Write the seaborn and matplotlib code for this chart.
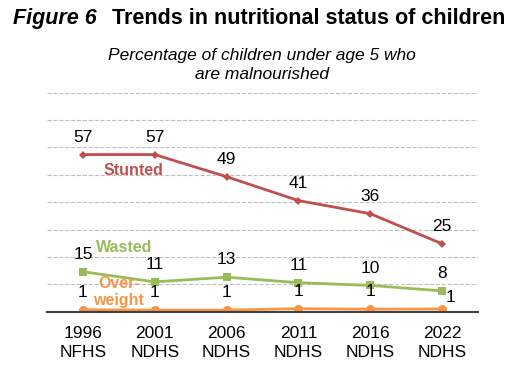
import matplotlib
matplotlib.use("Agg")
import matplotlib.pyplot as plt
import pandas as pd
import seaborn as sns

surveys = ['1996\nNFHS', '2001\nNDHS', '2006\nNDHS', '2011\nNDHS', '2016\nNDHS', '2022\nNDHS']
stunted = [57.4, 57.4, 49.3, 40.6, 35.8, 24.8]
wasted = [14.6, 10.9, 12.6, 10.6, 9.6, 7.6]
overweight = [0.7, 0.6, 0.6, 1.1, 0.9, 1.0]

series = ['Stunted', 'Wasted', 'Overweight']
colors = {'Stunted': '#C0504D', 'Wasted': '#9BBB59', 'Overweight': '#F79646'}
markers = {'Stunted': 'D', 'Wasted': 's', 'Overweight': 'o'}
msize = {'Stunted': 4, 'Wasted': 6, 'Overweight': 6.5}

df = pd.DataFrame({'survey': surveys, 'Stunted': stunted, 'Wasted': wasted, 'Overweight': overweight})
data = df.melt(id_vars=['survey'], var_name='status', value_name='pct')

sns.set_style('white')
plt.rcParams['font.family'] = ['Liberation Sans', 'DejaVu Sans']
plt.rcParams['text.color'] = 'black'
plt.rcParams['xtick.color'] = 'black'

fig = plt.figure(figsize=(5.3, 3.77), dpi=100)
ax = fig.add_axes([0.0887, 0.1732, 0.8132, 0.5809])

for s in series:
    sub = data[data['status'] == s]
    sns.lineplot(data=sub, x='survey', y='pct', color=colors[s], marker=markers[s],
                 markersize=msize[s], markeredgewidth=0, linewidth=2, ax=ax, sort=False)

ax.set_xlim(-0.5, 5.5)
ax.set_ylim(0, 80)
ax.set_yticks(range(10, 81, 10))
ax.set_yticklabels([])
ax.tick_params(axis='y', length=0)
ax.tick_params(axis='x', length=0, labelsize=12.5, labelcolor='black', pad=10)
ax.grid(axis='y', linestyle='--', color='#BFBFBF', linewidth=0.8)
for sp in ['top', 'left', 'right']:
    ax.spines[sp].set_visible(False)
ax.spines['bottom'].set_color('#404040')
ax.spines['bottom'].set_linewidth(1.5)
ax.set_xlabel(None)
ax.set_ylabel(None)
for lbl in ax.get_xticklabels():
    lbl.set_linespacing(1.35)

# value labels
for s in series:
    vals = df[s].tolist()
    for i, v in enumerate(vals):
        dx, dy = 0, 12.5
        if s == 'Overweight' and i == len(vals) - 1:
            dx, dy = 6, 8
        ax.annotate(f"{v:.0f}", (i, v), xytext=(dx, dy), textcoords='offset points',
                    ha='center', va='center', fontsize=12.5, color='black')

# series labels
ax.text(0.71, 51.7, 'Stunted', color=colors['Stunted'], fontsize=11.5, fontweight='bold', ha='center', va='center')
ax.text(0.57, 23.3, 'Wasted', color=colors['Wasted'], fontsize=11.5, fontweight='bold', ha='center', va='center')
ax.text(0.50, 7.2, 'Over-\nweight', color=colors['Overweight'], fontsize=11.5, fontweight='bold',
        ha='center', va='center', linespacing=1.2)

fig.text(0.024, 0.952, 'Figure 6', fontsize=15.5, fontweight='bold', fontstyle='italic', va='center')
fig.text(0.212, 0.952, 'Trends in nutritional status of children', fontsize=15.5, fontweight='bold', va='center')
fig.text(0.495, 0.828, 'Percentage of children under age 5 who\nare malnourished', fontsize=12.5,
         fontstyle='italic', ha='center', va='center', linespacing=1.35)

fig.savefig('out.png', dpi=100)
